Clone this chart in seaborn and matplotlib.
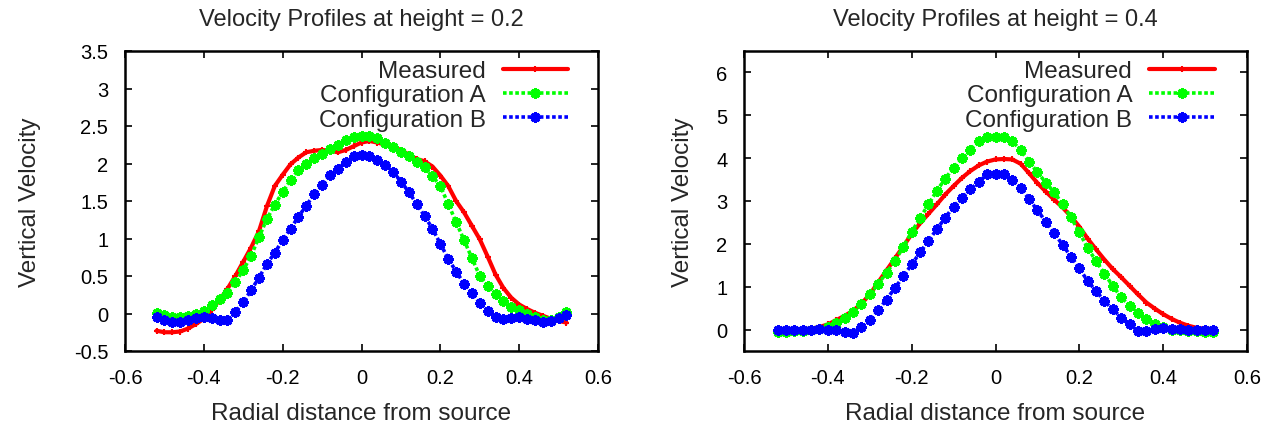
import numpy as np
import pandas as pd
import seaborn as sns
import matplotlib.pyplot as plt
from matplotlib.ticker import FormatStrFormatter

# sample positions (radial distance)
radius = [-0.52, -0.50, -0.48, -0.46, -0.44, -0.42, -0.40, -0.38, -0.36, -0.34,
          -0.32, -0.30, -0.28, -0.26, -0.24, -0.22, -0.20, -0.18, -0.16, -0.14,
          -0.12, -0.10, -0.08, -0.06, -0.04, -0.02, 0.00, 0.02, 0.04, 0.06,
          0.08, 0.10, 0.12, 0.14, 0.16, 0.18, 0.20, 0.22, 0.24, 0.26,
          0.28, 0.30, 0.32, 0.34, 0.36, 0.38, 0.40, 0.42, 0.44, 0.46,
          0.48, 0.50, 0.52]

# height = 0.2
h02_measured = [-0.23, -0.25, -0.25, -0.24, -0.20, -0.14, -0.07, 0.05, 0.18, 0.33,
                0.50, 0.69, 0.88, 1.10, 1.43, 1.70, 1.85, 1.99, 2.08, 2.15,
                2.17, 2.18, 2.17, 2.15, 2.18, 2.23, 2.28, 2.30, 2.28, 2.25,
                2.22, 2.18, 2.12, 2.06, 2.03, 1.96, 1.84, 1.70, 1.50, 1.35,
                1.17, 0.99, 0.76, 0.52, 0.34, 0.21, 0.12, 0.06, 0.01, -0.03,
                -0.07, -0.10, -0.12]
h02_conf_a = [0.01, -0.02, -0.05, -0.05, -0.03, 0.00, 0.04, 0.11, 0.19, 0.28,
              0.42, 0.58, 0.77, 1.02, 1.26, 1.45, 1.62, 1.78, 1.91, 2.00,
              2.07, 2.13, 2.19, 2.25, 2.32, 2.36, 2.37, 2.37, 2.34, 2.28,
              2.22, 2.16, 2.10, 2.02, 1.95, 1.83, 1.70, 1.46, 1.22, 0.98,
              0.74, 0.50, 0.37, 0.26, 0.17, 0.09, 0.05, 0.00, -0.04, -0.08,
              -0.09, -0.04, 0.02]
h02_conf_b = [-0.04, -0.08, -0.11, -0.11, -0.09, -0.06, -0.05, -0.06, -0.08, -0.09,
              0.02, 0.15, 0.31, 0.48, 0.66, 0.81, 0.98, 1.13, 1.29, 1.44,
              1.59, 1.72, 1.85, 1.93, 2.02, 2.10, 2.11, 2.10, 2.05, 1.98,
              1.89, 1.76, 1.62, 1.46, 1.30, 1.13, 0.93, 0.73, 0.56, 0.40,
              0.27, 0.14, 0.04, -0.05, -0.07, -0.06, -0.05, -0.07, -0.09, -0.11,
              -0.10, -0.06, -0.02]

# height = 0.4
h04_measured = [0.00, 0.00, 0.00, 0.01, 0.02, 0.06, 0.12, 0.22, 0.32, 0.44,
                0.60, 0.82, 1.10, 1.38, 1.66, 1.94, 2.23, 2.48, 2.70, 2.92,
                3.15, 3.35, 3.54, 3.70, 3.83, 3.92, 3.97, 3.98, 3.97, 3.87,
                3.65, 3.42, 3.22, 3.03, 2.85, 2.64, 2.40, 2.12, 1.87, 1.63,
                1.41, 1.22, 1.02, 0.82, 0.63, 0.49, 0.36, 0.25, 0.16, 0.09,
                0.04, 0.02, 0.01]
h04_conf_a = [-0.05, -0.05, -0.04, -0.03, -0.01, 0.02, 0.07, 0.16, 0.26, 0.42,
              0.60, 0.83, 1.06, 1.33, 1.60, 1.93, 2.28, 2.60, 2.92, 3.24,
              3.52, 3.78, 4.00, 4.20, 4.40, 4.49, 4.50, 4.49, 4.40, 4.18,
              3.92, 3.67, 3.43, 3.20, 2.93, 2.62, 2.27, 1.90, 1.60, 1.30,
              1.02, 0.75, 0.56, 0.39, 0.24, 0.14, 0.06, 0.00, -0.02, -0.03,
              -0.04, -0.05, -0.05]
h04_conf_b = [-0.01, -0.01, -0.02, -0.01, 0.00, 0.01, 0.00, -0.02, -0.05, -0.07,
              0.07, 0.23, 0.45, 0.70, 0.97, 1.24, 1.52, 1.80, 2.07, 2.34,
              2.61, 2.87, 3.07, 3.27, 3.45, 3.62, 3.63, 3.63, 3.50, 3.30,
              3.05, 2.78, 2.52, 2.25, 1.98, 1.70, 1.43, 1.13, 0.90, 0.66,
              0.47, 0.28, 0.12, -0.03, -0.04, 0.02, 0.04, 0.02, 0.01, 0.00,
              0.00, 0.00, 0.00]

series_names = ['Measured', 'Configuration A', 'Configuration B']

sns.set_style('ticks')
plt.rcParams['font.family'] = ['Liberation Sans', 'DejaVu Sans']
plt.rcParams['axes.unicode_minus'] = False

styles = {
    'Measured': dict(color='#ff0000', linestyle='-', linewidth=3,
                     marker='+', markersize=4, markeredgewidth=1.5,
                     markeredgecolor='#ff0000'),
    'Configuration A': dict(color='#00ff00', linestyle=(0, (1, 0.7)), linewidth=2.6,
                            marker=(8, 2, 0), markersize=7.5, markeredgewidth=2,
                            markeredgecolor='#00ff00'),
    'Configuration B': dict(color='#0000ff', linestyle=(0, (1, 0.7)), linewidth=2.6,
                            marker=(8, 2, 0), markersize=7.5, markeredgewidth=2,
                            markeredgecolor='#0000ff'),
}

fig = plt.figure(figsize=(12.78, 4.31), dpi=100)
ax1 = fig.add_axes([125 / 1278, 79 / 431, 473 / 1278, 300 / 431])
ax2 = fig.add_axes([744 / 1278, 79 / 431, 503 / 1278, 300 / 431])

panels = [
    (ax1, 'Velocity Profiles at height = 0.2', [h02_measured, h02_conf_a, h02_conf_b],
     (-0.5, 3.5), np.round(np.arange(-0.5, 3.51, 0.5), 2), 0.937, -0.178),
    (ax2, 'Velocity Profiles at height = 0.4', [h04_measured, h04_conf_a, h04_conf_b],
     (-0.5, 6.5), np.round(np.arange(0, 6.1, 1), 2), 0.936, -0.099),
]

for ax, title, values, ylim, yticks, leg_x, ylab_x in panels:
    for name, vals in zip(series_names, values):
        sns.lineplot(x=radius, y=vals, ax=ax, label=name, **styles[name])
    ax.set_xlim(-0.6, 0.6)
    ax.set_ylim(*ylim)
    ax.set_xticks(np.round(np.arange(-0.6, 0.61, 0.2), 2))
    ax.set_yticks(yticks)
    ax.xaxis.set_major_formatter(FormatStrFormatter('%g'))
    ax.yaxis.set_major_formatter(FormatStrFormatter('%g'))
    ax.tick_params(direction='in', top=True, right=True, length=5, width=1.2,
                   pad=12, labelsize=14.5, colors='black')
    for s in ax.spines.values():
        s.set_linewidth(1.8)
        s.set_color('black')
    ax.set_title(title, fontsize=17, pad=19)
    ax.set_xlabel('Radial distance from source', fontsize=17.5, labelpad=11)
    ax.set_ylabel('Vertical Velocity', fontsize=17.5)
    ax.yaxis.set_label_coords(ylab_x, 0.5)
    # markerfirst=False right-aligns the labels next to their samples
    ax.legend(loc='upper right', bbox_to_anchor=(leg_x, 0.97), frameon=False,
              markerfirst=False, fontsize=17.5, handlelength=2.7,
              handletextpad=0.7, labelspacing=0.1, borderpad=0,
              borderaxespad=0)

fig.savefig('out.png', dpi=100)
